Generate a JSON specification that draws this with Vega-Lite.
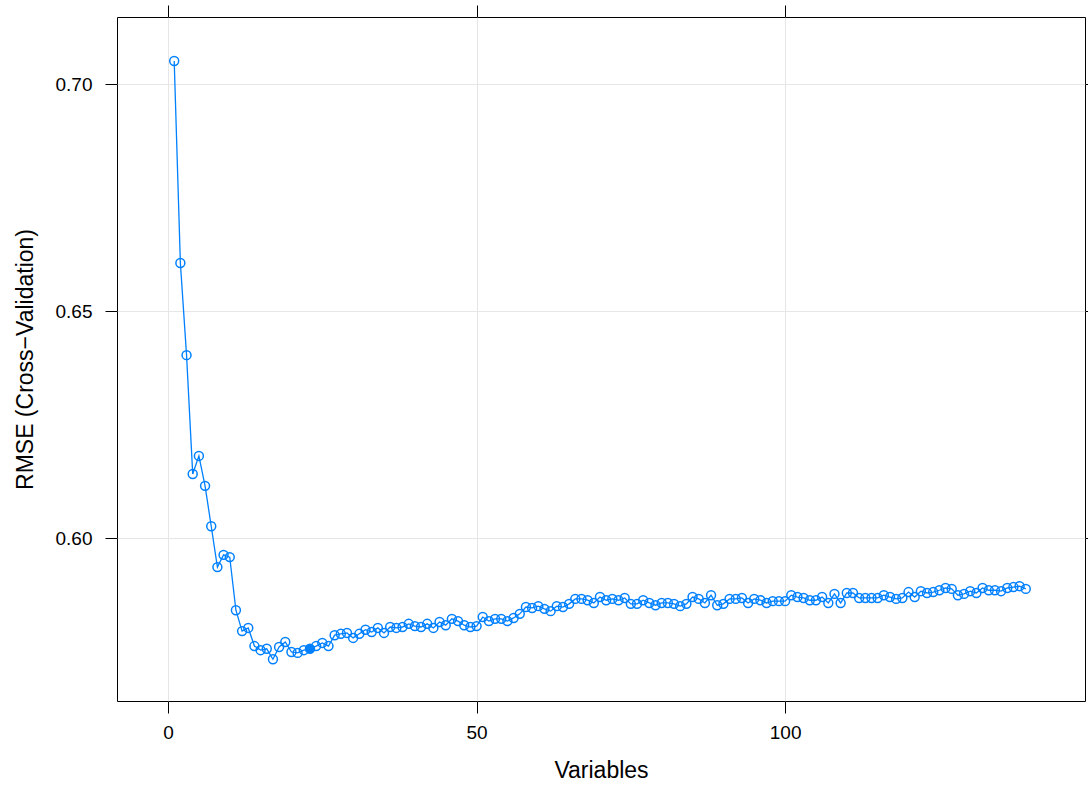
{
  "$schema": "https://vega.github.io/schema/vega-lite/v6.json",
  "autosize": {"type": "none"},
  "padding": {"left": 117, "top": 17, "right": 3, "bottom": 89},
  "width": 968,
  "height": 684,
  "background": "white",
  "config": {
    "view": {"stroke": "black", "strokeWidth": 1},
    "axis": {
      "labelFont": "Liberation Sans",
      "titleFont": "Liberation Sans",
      "labelFontSize": 19,
      "titleFontSize": 23,
      "titleFontWeight": "normal",
      "labelColor": "black",
      "titleColor": "black",
      "tickColor": "black",
      "tickSize": 12,
      "domain": false,
      "gridColor": "#e6e6e6",
      "gridWidth": 1
    }
  },
  "data": {"values": [
    {"v":1,"rmse":0.7051,"best":false},{"v":2,"rmse":0.6606,"best":false},{"v":3,"rmse":0.6403,"best":false},{"v":4,"rmse":0.6141,"best":false},{"v":5,"rmse":0.6181,"best":false},
    {"v":6,"rmse":0.6115,"best":false},{"v":7,"rmse":0.6026,"best":false},{"v":8,"rmse":0.5936,"best":false},{"v":9,"rmse":0.5963,"best":false},{"v":10,"rmse":0.5958,"best":false},
    {"v":11,"rmse":0.5841,"best":false},{"v":12,"rmse":0.5795,"best":false},{"v":13,"rmse":0.5802,"best":false},{"v":14,"rmse":0.5762,"best":false},{"v":15,"rmse":0.5753,"best":false},
    {"v":16,"rmse":0.5756,"best":false},{"v":17,"rmse":0.5733,"best":false},{"v":18,"rmse":0.5760,"best":false},{"v":19,"rmse":0.5771,"best":false},{"v":20,"rmse":0.5749,"best":false},
    {"v":21,"rmse":0.5747,"best":false},{"v":22,"rmse":0.5753,"best":false},{"v":23,"rmse":0.5756,"best":true},{"v":24,"rmse":0.5762,"best":false},{"v":25,"rmse":0.5769,"best":false},
    {"v":26,"rmse":0.5762,"best":false},{"v":27,"rmse":0.5786,"best":false},{"v":28,"rmse":0.5789,"best":false},{"v":29,"rmse":0.5791,"best":false},{"v":30,"rmse":0.5780,"best":false},
    {"v":31,"rmse":0.5789,"best":false},{"v":32,"rmse":0.5798,"best":false},{"v":33,"rmse":0.5793,"best":false},{"v":34,"rmse":0.5802,"best":false},{"v":35,"rmse":0.5791,"best":false},
    {"v":36,"rmse":0.5804,"best":false},{"v":37,"rmse":0.5802,"best":false},{"v":38,"rmse":0.5804,"best":false},{"v":39,"rmse":0.5811,"best":false},{"v":40,"rmse":0.5806,"best":false},
    {"v":41,"rmse":0.5804,"best":false},{"v":42,"rmse":0.5811,"best":false},{"v":43,"rmse":0.5802,"best":false},{"v":44,"rmse":0.5815,"best":false},{"v":45,"rmse":0.5808,"best":false},
    {"v":46,"rmse":0.5822,"best":false},{"v":47,"rmse":0.5817,"best":false},{"v":48,"rmse":0.5808,"best":false},{"v":49,"rmse":0.5804,"best":false},{"v":50,"rmse":0.5806,"best":false},
    {"v":51,"rmse":0.5826,"best":false},{"v":52,"rmse":0.5817,"best":false},{"v":53,"rmse":0.5822,"best":false},{"v":54,"rmse":0.5822,"best":false},{"v":55,"rmse":0.5817,"best":false},
    {"v":56,"rmse":0.5824,"best":false},{"v":57,"rmse":0.5833,"best":false},{"v":58,"rmse":0.5848,"best":false},{"v":59,"rmse":0.5846,"best":false},{"v":60,"rmse":0.5850,"best":false},
    {"v":61,"rmse":0.5844,"best":false},{"v":62,"rmse":0.5839,"best":false},{"v":63,"rmse":0.5850,"best":false},{"v":64,"rmse":0.5848,"best":false},{"v":65,"rmse":0.5855,"best":false},
    {"v":66,"rmse":0.5866,"best":false},{"v":67,"rmse":0.5866,"best":false},{"v":68,"rmse":0.5863,"best":false},{"v":69,"rmse":0.5857,"best":false},{"v":70,"rmse":0.5870,"best":false},
    {"v":71,"rmse":0.5863,"best":false},{"v":72,"rmse":0.5866,"best":false},{"v":73,"rmse":0.5863,"best":false},{"v":74,"rmse":0.5868,"best":false},{"v":75,"rmse":0.5855,"best":false},
    {"v":76,"rmse":0.5855,"best":false},{"v":77,"rmse":0.5863,"best":false},{"v":78,"rmse":0.5857,"best":false},{"v":79,"rmse":0.5852,"best":false},{"v":80,"rmse":0.5857,"best":false},
    {"v":81,"rmse":0.5857,"best":false},{"v":82,"rmse":0.5855,"best":false},{"v":83,"rmse":0.5850,"best":false},{"v":84,"rmse":0.5855,"best":false},{"v":85,"rmse":0.5870,"best":false},
    {"v":86,"rmse":0.5866,"best":false},{"v":87,"rmse":0.5857,"best":false},{"v":88,"rmse":0.5874,"best":false},{"v":89,"rmse":0.5852,"best":false},{"v":90,"rmse":0.5855,"best":false},
    {"v":91,"rmse":0.5866,"best":false},{"v":92,"rmse":0.5866,"best":false},{"v":93,"rmse":0.5868,"best":false},{"v":94,"rmse":0.5857,"best":false},{"v":95,"rmse":0.5866,"best":false},
    {"v":96,"rmse":0.5863,"best":false},{"v":97,"rmse":0.5857,"best":false},{"v":98,"rmse":0.5861,"best":false},{"v":99,"rmse":0.5861,"best":false},{"v":100,"rmse":0.5861,"best":false},
    {"v":101,"rmse":0.5874,"best":false},{"v":102,"rmse":0.5870,"best":false},{"v":103,"rmse":0.5868,"best":false},{"v":104,"rmse":0.5863,"best":false},{"v":105,"rmse":0.5863,"best":false},
    {"v":106,"rmse":0.5870,"best":false},{"v":107,"rmse":0.5857,"best":false},{"v":108,"rmse":0.5877,"best":false},{"v":109,"rmse":0.5857,"best":false},{"v":110,"rmse":0.5879,"best":false},
    {"v":111,"rmse":0.5879,"best":false},{"v":112,"rmse":0.5868,"best":false},{"v":113,"rmse":0.5868,"best":false},{"v":114,"rmse":0.5868,"best":false},{"v":115,"rmse":0.5868,"best":false},
    {"v":116,"rmse":0.5874,"best":false},{"v":117,"rmse":0.5870,"best":false},{"v":118,"rmse":0.5866,"best":false},{"v":119,"rmse":0.5868,"best":false},{"v":120,"rmse":0.5881,"best":false},
    {"v":121,"rmse":0.5870,"best":false},{"v":122,"rmse":0.5883,"best":false},{"v":123,"rmse":0.5879,"best":false},{"v":124,"rmse":0.5881,"best":false},{"v":125,"rmse":0.5885,"best":false},
    {"v":126,"rmse":0.5890,"best":false},{"v":127,"rmse":0.5888,"best":false},{"v":128,"rmse":0.5874,"best":false},{"v":129,"rmse":0.5877,"best":false},{"v":130,"rmse":0.5883,"best":false},
    {"v":131,"rmse":0.5879,"best":false},{"v":132,"rmse":0.5890,"best":false},{"v":133,"rmse":0.5885,"best":false},{"v":134,"rmse":0.5885,"best":false},{"v":135,"rmse":0.5883,"best":false},
    {"v":136,"rmse":0.5890,"best":false},{"v":137,"rmse":0.5892,"best":false},{"v":138,"rmse":0.5894,"best":false},{"v":139,"rmse":0.5888,"best":false}
  ]},
  "layer": [
    {
      "mark": {"type": "line", "color": "#0080ff", "strokeWidth": 1.3},
      "encoding": {
        "x": {"field": "v", "type": "quantitative",
              "scale": {"domain": [-8.27, 148.6], "nice": false, "zero": false},
              "axis": {"values": [0, 50, 100], "grid": true, "title": "Variables", "labelPadding": 10, "titlePadding": 17}},
        "y": {"field": "rmse", "type": "quantitative",
              "scale": {"domain": [0.5641, 0.7148], "nice": false, "zero": false},
              "axis": {"values": [0.6, 0.65, 0.7], "format": ".2f", "grid": true, "title": "RMSE (Cross\u2212Validation)", "labelPadding": 13, "titlePadding": 18}}
      }
    },
    {
      "mark": {"type": "point", "shape": "circle", "size": 80, "strokeWidth": 1.5, "color": "#0080ff", "opacity": 1},
      "encoding": {
        "x": {"field": "v", "type": "quantitative",
              "axis": {"orient": "top", "values": [0, 50, 100], "labels": false, "grid": false, "title": null}},
        "y": {"field": "rmse", "type": "quantitative",
              "axis": {"orient": "right", "values": [0.6, 0.65, 0.7], "labels": false, "grid": false, "title": null}},
        "fill": {"condition": {"test": "datum.best", "value": "#0080ff"}, "value": "transparent"}
      }
    }
  ],
  "resolve": {"axis": {"x": "independent", "y": "independent"}}
}
